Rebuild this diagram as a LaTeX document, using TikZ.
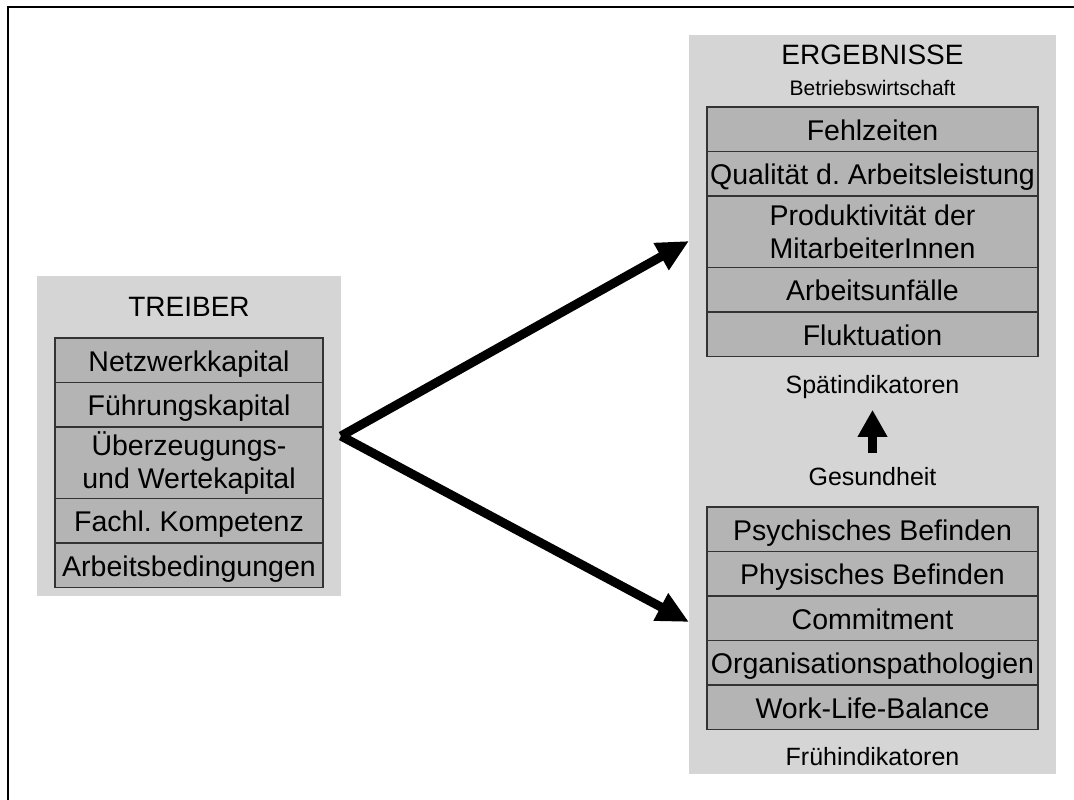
\documentclass[tikz,border=0pt]{standalone}
\usepackage{fontspec}
\setmainfont{Liberation Sans}
\usetikzlibrary{positioning,arrows.meta}
\definecolor{panelgray}{RGB}{213,213,213}
\definecolor{itemgray}{RGB}{180,180,180}
\frenchspacing

\begin{document}
\begin{tikzpicture}[x=1pt,y=-1pt,node distance=0pt,
  panel/.style={fill=panelgray,inner sep=0pt,outer sep=0pt},
  item/.style={draw=black!80,line width=1.2pt,fill=itemgray,inner sep=0pt,outer sep=0pt,
    minimum height=44.5pt,align=center,text height=25pt,text depth=3pt,
    font=\fontsize{28.5}{33}\selectfont},
  twoline/.style={minimum height=71.5pt,text height=,text depth=},
  head/.style={inner sep=0pt,font=\fontsize{28}{33}\selectfont},
  sub/.style={inner sep=0pt,font=\fontsize{25}{30}\selectfont},
  bigarrow/.style={-{Triangle[length=32pt,width=29pt]},line width=9pt},
  uparrow/.style={-{Triangle[length=27pt,width=28pt]},line width=9pt}]

  \useasboundingbox (0,0) rectangle (1074,800);
  \draw[line width=2pt] (8,801) -- (8,7) -- (1075,7);

  % Treiber
  \node[panel,minimum width=304pt,minimum height=320pt] (lpanel) at (189,436) {};
  \node[head] (treiber) at (189,307) {TREIBER};

  \node[item,minimum width=268pt] (netz) at (189,360.25) {Netzwerkkapital};
  \node[item,minimum width=268pt] (fuehr) [below=of netz] {Führungskapital};
  \node[item,twoline,minimum width=268pt] (werte) [below=of fuehr] {Überzeugungs-\\und Wertekapital};
  \node[item,minimum width=268pt] (fach) [below=of werte] {Fachl. Kompetenz};
  \node[item,minimum width=268pt] (bed) [below=of fach] {Arbeitsbedingungen};

  % Ergebnisse
  \node[panel,minimum width=367pt,minimum height=739pt] (rpanel) at (872.5,404.5) {};
  \node[head] (ergeb) at (872.5,55) {ERGEBNISSE};
  \node[inner sep=0pt,font=\fontsize{21}{25}\selectfont] (bwl) at (872.5,88) {Betriebswirtschaft};

  \node[item,minimum width=331pt] (fehl) at (872.5,129.25) {Fehlzeiten};
  \node[item,minimum width=331pt] (quali) [below=of fehl] {Qualität d. Arbeitsleistung};
  \node[item,twoline,minimum width=331pt] (prod) [below=of quali] {Produktivität der\\MitarbeiterInnen};
  \node[item,minimum width=331pt] (unfall) [below=of prod] {Arbeitsunfälle};
  \node[item,minimum width=331pt] (flukt) [below=of unfall] {Fluktuation};

  \node[sub] (spaet) at (872.5,387.5) {Spätindikatoren};
  \node[sub] (gesund) at (872.5,477) {Gesundheit};

  \node[item,minimum width=331pt] (psych) at (872.5,529.25) {Psychisches Befinden};
  \node[item,minimum width=331pt] (phys) [below=of psych] {Physisches Befinden};
  \node[item,minimum width=331pt] (commit) [below=of phys] {Commitment};
  \node[item,minimum width=331pt] (orga) [below=of commit] {Organisationspathologien};
  \node[item,minimum width=331pt] (wlb) [below=of orga] {Work-Life-Balance};

  \node[sub] (frueh) at (872.5,757) {Frühindikatoren};

  % Pfeile
  \coordinate (up) at (689,241);
  \coordinate (down) at (689,622);
  \draw[bigarrow] (lpanel.east) -- (up);
  \draw[bigarrow] (lpanel.east) -- (down);
  \draw[uparrow,shorten <=14.5pt,shorten >=10.5pt] (gesund) -- (spaet);

\end{tikzpicture}
\end{document}
